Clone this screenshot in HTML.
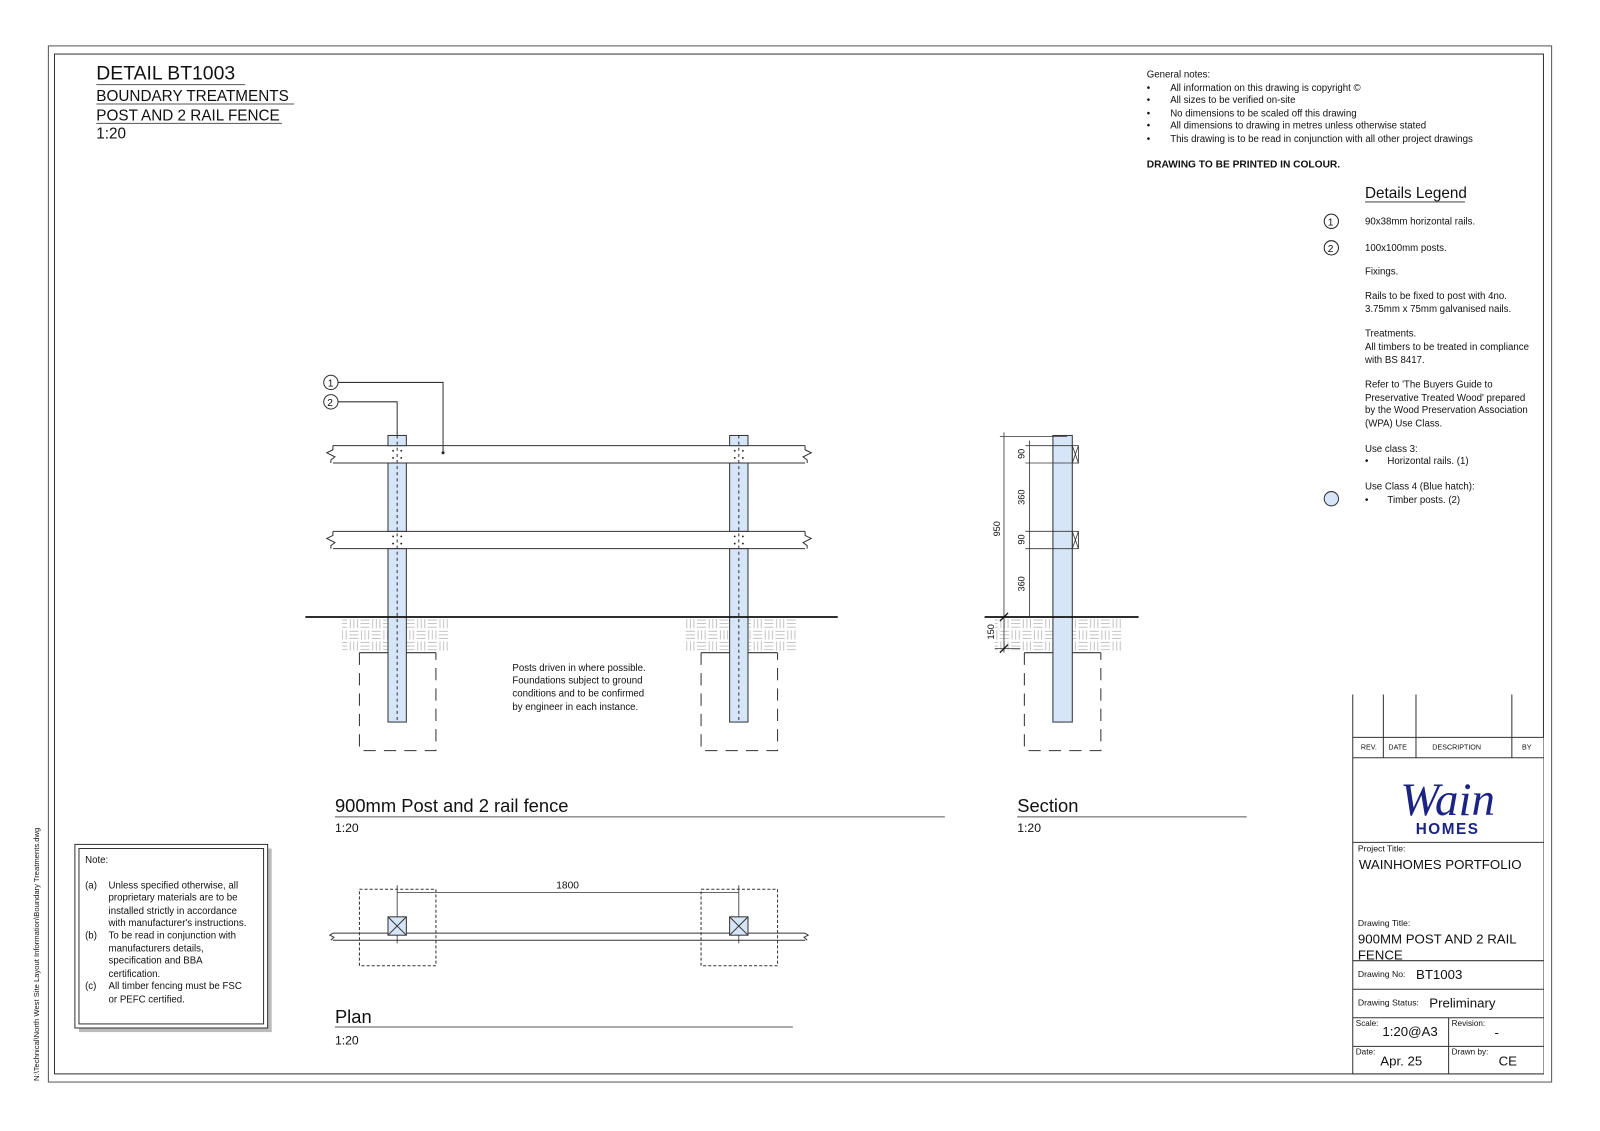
<!DOCTYPE html>
<html><head><meta charset="utf-8"><style>
html,body{margin:0;padding:0;background:#fff}
svg{display:block}
text{font-family:"Liberation Sans",sans-serif;fill:#111}
</style></head><body>
<svg width="1600" height="1131" viewBox="0 0 1568 1109" xmlns="http://www.w3.org/2000/svg">
<defs>
<pattern id="h" x="0" y="606" width="22" height="22" patternUnits="userSpaceOnUse">
<g stroke="#b5b5b5" stroke-width="0.8">
<line x1="1" y1="2" x2="10" y2="2"/><line x1="1" y1="5.5" x2="10" y2="5.5"/><line x1="1" y1="9" x2="10" y2="9"/>
<line x1="13" y1="1" x2="13" y2="10"/><line x1="16.5" y1="1" x2="16.5" y2="10"/><line x1="20" y1="1" x2="20" y2="10"/>
<line x1="2" y1="12" x2="2" y2="21"/><line x1="5.5" y1="12" x2="5.5" y2="21"/><line x1="9" y1="12" x2="9" y2="21"/>
<line x1="12" y1="13" x2="21" y2="13"/><line x1="12" y1="16.5" x2="21" y2="16.5"/><line x1="12" y1="20" x2="21" y2="20"/>
</g></pattern>
</defs>
<g fill="none" stroke="#555" stroke-width="1">
<rect x="47" y="45" width="1474" height="1016"/>
<rect x="53" y="53" width="1460" height="1000" stroke="#333"/>
</g>
<text x="94" y="78" font-size="19">DETAIL BT1003</text>
<line x1="94" y1="83" x2="240" y2="83" stroke="#555"/>
<text x="94" y="99" font-size="15">BOUNDARY TREATMENTS</text>
<line x1="94" y1="102" x2="288" y2="102" stroke="#555"/>
<text x="94" y="118" font-size="15">POST AND 2 RAIL FENCE</text>
<line x1="94" y1="121" x2="276" y2="121" stroke="#555"/>
<text x="94" y="136" font-size="15">1:20</text>

<g font-size="9.5">
<text x="1124" y="76">General notes:</text>
<text x="1124" y="89">•</text><text x="1147" y="89">All information on this drawing is copyright ©</text>
<text x="1124" y="101">•</text><text x="1147" y="101">All sizes to be verified on-site</text>
<text x="1124" y="114">•</text><text x="1147" y="114">No dimensions to be scaled off this drawing</text>
<text x="1124" y="126">•</text><text x="1147" y="126">All dimensions to drawing in metres unless otherwise stated</text>
<text x="1124" y="139">•</text><text x="1147" y="139">This drawing is to be read in conjunction with all other project drawings</text>
<text x="1124" y="164" font-weight="bold" font-size="10">DRAWING TO BE PRINTED IN COLOUR.</text>
</g>
<text x="1338" y="194" font-size="15">Details Legend</text>
<line x1="1338" y1="198" x2="1436" y2="198" stroke="#555"/>
<g fill="none" stroke="#222"><circle cx="1305" cy="217" r="7"/><circle cx="1305" cy="243" r="7"/></g>
<circle cx="1305" cy="489" r="7" fill="#d6e6f8" stroke="#333"/>
<g font-size="9.5">
<text x="1301.5" y="221" font-size="10">1</text><text x="1301.5" y="247" font-size="10">2</text>
<text x="1338" y="220">90x38mm horizontal rails.</text>
<text x="1338" y="246">100x100mm posts.</text>
<text x="1338" y="269">Fixings.</text>
<text x="1338" y="293">Rails to be fixed to post with 4no.</text>
<text x="1338" y="306">3.75mm x 75mm galvanised nails.</text>
<text x="1338" y="330">Treatments.</text>
<text x="1338" y="343">All timbers to be treated in compliance</text>
<text x="1338" y="356">with BS 8417.</text>
<text x="1338" y="380">Refer to 'The Buyers Guide to</text>
<text x="1338" y="393">Preservative Treated Wood' prepared</text>
<text x="1338" y="405">by the Wood Preservation Association</text>
<text x="1338" y="418">(WPA) Use Class.</text>
<text x="1338" y="443">Use class 3:</text>
<text x="1338" y="455">•</text><text x="1360" y="455">Horizontal rails. (1)</text>
<text x="1338" y="480">Use Class 4 (Blue hatch):</text>
<text x="1338" y="493">•</text><text x="1360" y="493">Timber posts. (2)</text>
</g>

<!-- Elevation -->
<rect x="335" y="606" width="105" height="34" fill="url(#h)"/>
<rect x="670" y="606" width="110" height="34" fill="url(#h)"/>
<rect x="975" y="606" width="125" height="34" fill="url(#h)"/>
<g fill="none" stroke="#333" stroke-width="1">
<path d="M326 437 H789 M326 454 H789 M326 521 H789 M326 538 H789"/>
<polyline points="326,437 326,441 320,444 328,448 324,451 324,454"/>
<polyline points="326,521 326,525 320,528 328,532 324,535 324,538"/>
<polyline points="789,437 789,441 795,444 787,448 791,451 791,454"/>
<polyline points="789,521 789,525 795,528 787,532 791,535 791,538"/>
</g>
<g stroke="#333" fill="#d6e6f8">
<rect x="380" y="427" width="18" height="10"/><rect x="380" y="454" width="18" height="67"/><rect x="380" y="538" width="18" height="170"/>
<rect x="715" y="427" width="18" height="10"/><rect x="715" y="454" width="18" height="67"/><rect x="715" y="538" width="18" height="170"/>
<rect x="1032" y="427" width="19" height="281"/>
</g>
<g stroke="#333" stroke-dasharray="3,3" fill="none">
<line x1="389" y1="427" x2="389" y2="708"/><line x1="724" y1="427" x2="724" y2="708"/>
</g>
<g fill="#222">
<circle cx="385" cy="442" r="0.9"/><circle cx="385" cy="449" r="0.9"/><circle cx="393" cy="442" r="0.9"/><circle cx="393" cy="449" r="0.9"/>
<circle cx="385" cy="526" r="0.9"/><circle cx="385" cy="533" r="0.9"/><circle cx="393" cy="526" r="0.9"/><circle cx="393" cy="533" r="0.9"/>
<circle cx="720" cy="442" r="0.9"/><circle cx="720" cy="449" r="0.9"/><circle cx="728" cy="442" r="0.9"/><circle cx="728" cy="449" r="0.9"/>
<circle cx="720" cy="526" r="0.9"/><circle cx="720" cy="533" r="0.9"/><circle cx="728" cy="526" r="0.9"/><circle cx="728" cy="533" r="0.9"/>
<circle cx="434" cy="444" r="1.5"/>
</g>
<g stroke="#111" stroke-width="1.8"><line x1="299" y1="605" x2="821" y2="605"/><line x1="965" y1="605" x2="1116" y2="605"/></g>
<g stroke="#333" fill="none">
<path d="M352 640 H380 M398 640 H427 M687 640 H715 M733 640 H762 M1004 640 H1032 M1051 640 H1079"/>
<path d="M352 640 V736 H427 V640 M687 640 V736 H762 V640 M1004 640 V736 H1079 V640" stroke-dasharray="12,8"/>
<circle cx="324" cy="375" r="7"/><circle cx="324" cy="394" r="7"/>
<polyline points="331,375 434,375 434,444"/>
<polyline points="331,394 389,394 389,427"/>
</g>
<text x="321" y="379" font-size="10">1</text><text x="320.5" y="398" font-size="10">2</text>
<g font-size="9.5">
<text x="502" y="658">Posts driven in where possible.</text>
<text x="502" y="670">Foundations subject to ground</text>
<text x="502" y="683">conditions and to be confirmed</text>
<text x="502" y="696">by engineer in each instance.</text>
</g>

<!-- Section dims -->
<g stroke="#333" fill="none" stroke-width="0.8">
<rect x="1051" y="437" width="6" height="17"/><path d="M1051 437 L1057 454 M1057 437 L1051 454"/>
<rect x="1051" y="521" width="6" height="17"/><path d="M1051 521 L1057 538 M1057 521 L1051 538"/>
<line x1="984" y1="424" x2="984" y2="640"/>
<line x1="980" y1="428" x2="1046" y2="428"/>
<line x1="1009" y1="432" x2="1009" y2="605"/>
<path d="M1005 437 H1051 M1005 454 H1051 M1005 521 H1051 M1005 538 H1051 M975 636 H1000"/>
</g>
<g stroke="#111" stroke-width="1.3"><line x1="980" y1="609" x2="988" y2="601"/><line x1="980" y1="640" x2="988" y2="632"/></g>
<g font-size="9">
<text transform="translate(1004,450) rotate(-90)">90</text>
<text transform="translate(1004,495) rotate(-90)">360</text>
<text transform="translate(980,526) rotate(-90)">950</text>
<text transform="translate(1004,534) rotate(-90)">90</text>
<text transform="translate(1004,580) rotate(-90)">360</text>
<text transform="translate(974,627) rotate(-90)">150</text>
</g>

<text x="328" y="796" font-size="18">900mm Post and 2 rail fence</text>
<line x1="328" y1="801" x2="926" y2="801" stroke="#555"/>
<text x="328" y="816" font-size="12">1:20</text>
<text x="997" y="796" font-size="18">Section</text>
<line x1="997" y1="801" x2="1222" y2="801" stroke="#555"/>
<text x="997" y="816" font-size="12">1:20</text>

<!-- Plan -->
<g stroke="#333" fill="none">
<path d="M326 915 H789 M326 922 H789"/>
<polyline points="326,915 323,917 327,919 324,922"/>
<polyline points="789,915 792,917 788,919 791,922"/>
<line x1="389" y1="875" x2="724" y2="875" stroke-width="0.8"/>
<line x1="389" y1="868" x2="389" y2="925" stroke-width="0.8"/>
<line x1="724" y1="868" x2="724" y2="925" stroke-width="0.8"/>
<rect x="352" y="872" width="75" height="75" stroke-dasharray="3,2"/>
<rect x="687" y="872" width="75" height="75" stroke-dasharray="3,2"/>
</g>
<g stroke="#333" fill="#d6e6f8">
<rect x="380" y="899" width="18" height="18"/><rect x="715" y="899" width="18" height="18"/>
</g>
<path d="M380 899 L398 917 M398 899 L380 917 M715 899 L733 917 M733 899 L715 917" stroke="#333"/>
<text x="545" y="871" font-size="10">1800</text>
<text x="328" y="1003" font-size="18">Plan</text>
<line x1="328" y1="1007" x2="777" y2="1007" stroke="#555"/>
<text x="328" y="1024" font-size="12">1:20</text>

<!-- Note box -->
<rect x="77" y="832" width="189" height="180" fill="#bbb"/>
<rect x="73" y="828" width="189" height="180" fill="#fff" stroke="#333"/>
<rect x="77" y="832" width="181" height="172" fill="none" stroke="#333"/>
<g font-size="9.5">
<text x="83" y="846">Note:</text>
<text x="83" y="871">(a)</text><text x="106" y="871">Unless specified otherwise, all</text>
<text x="106" y="883">proprietary materials are to be</text>
<text x="106" y="896">installed strictly in accordance</text>
<text x="106" y="908">with manufacturer's instructions.</text>
<text x="83" y="920">(b)</text><text x="106" y="920">To be read in conjunction with</text>
<text x="106" y="933">manufacturers details,</text>
<text x="106" y="945">specification and BBA</text>
<text x="106" y="958">certification.</text>
<text x="83" y="970">(c)</text><text x="106" y="970">All timber fencing must be FSC</text>
<text x="106" y="983">or PEFC certified.</text>
</g>
<text transform="translate(38,1060) rotate(-90)" font-size="7.5">N:\Technical\North West Site Layout Information\Boundary Treatments.dwg</text>

<!-- Title block -->
<rect x="1326" y="723" width="187" height="330" fill="#fff"/>
<g stroke="#333" fill="none">
<path d="M1326 681 V1053 H1513 M1356 681 V743 M1388 681 V743 M1482 681 V743 M1326 723 H1513 M1326 743 H1513 M1326 826 H1513 M1326 942 H1513 M1326 970 H1513 M1326 998 H1513 M1326 1026 H1513 M1420 998 V1053"/>
</g>
<g font-size="7">
<text x="1334" y="735">REV.</text><text x="1361" y="735">DATE</text><text x="1404" y="735">DESCRIPTION</text><text x="1492" y="735">BY</text>
</g>
<text x="1419" y="799" font-size="46" font-style="italic" text-anchor="middle" style="fill:#1b2385;font-family:'Liberation Serif',serif">Wain</text>
<text x="1419" y="818" font-size="15" font-weight="bold" text-anchor="middle" letter-spacing="1.5" style="fill:#1b2385">HOMES</text>
<text x="1331" y="835" font-size="8.5">Project Title:</text>
<text x="1332" y="852" font-size="13">WAINHOMES PORTFOLIO</text>
<text x="1331" y="908" font-size="8.5">Drawing Title:</text>
<text x="1331" y="925" font-size="13">900MM POST AND 2 RAIL</text>
<text x="1331" y="941" font-size="13">FENCE</text>
<text x="1331" y="958" font-size="8.5">Drawing No:</text>
<text x="1388" y="960" font-size="13">BT1003</text>
<text x="1331" y="986" font-size="8.5">Drawing Status:</text>
<text x="1401" y="988" font-size="13">Preliminary</text>
<text x="1329" y="1006" font-size="8">Scale:</text>
<text x="1355" y="1016" font-size="13">1:20@A3</text>
<text x="1423" y="1006" font-size="8">Revision:</text>
<text x="1465" y="1017" font-size="13">-</text>
<text x="1329" y="1034" font-size="8">Date:</text>
<text x="1353" y="1045" font-size="13">Apr. 25</text>
<text x="1423" y="1034" font-size="8">Drawn by:</text>
<text x="1469" y="1045" font-size="13">CE</text>
</svg>
</body></html>
